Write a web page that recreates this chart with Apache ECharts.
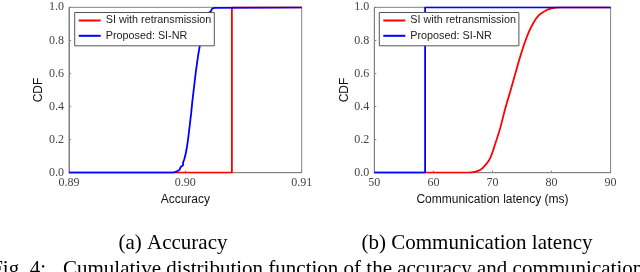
<!DOCTYPE html>
<html>
<head>
<meta charset="utf-8">
<script src="https://cdn.jsdelivr.net/npm/echarts@6/dist/echarts.min.js"></script>
<style>
html,body{margin:0;padding:0;background:#fff;}
#c{width:640px;height:272px;}
</style>
</head>
<body>
<div id="c"></div>
<script>
// ---- Data ----
var seriesNames = ['SI with retransmission', 'Proposed: SI-NR'];

// (a) Accuracy CDF
var accRetransX = [0.89, 0.904, 0.904, 0.91];
var accRetransY = [0, 0, 1, 1];
var accProposedX = [0.89, 0.8989, 0.8990, 0.8991, 0.8992, 0.8993, 0.8994, 0.8995, 0.8996, 0.8997, 0.8998, 0.8999,
  0.9000, 0.9001, 0.9002, 0.9003, 0.9004, 0.9005, 0.9006, 0.9007, 0.9008, 0.9009, 0.9010, 0.9011, 0.9012,
  0.9013, 0.9014, 0.9015, 0.9016, 0.9017, 0.9018, 0.9019, 0.9020, 0.9021, 0.9022, 0.9023, 0.9024, 0.9025, 0.9026, 0.91];
var accProposedY = [0, 0, 0.003, 0.005, 0.008, 0.012, 0.018, 0.025, 0.035, 0.045, 0.06, 0.08,
  0.105, 0.14, 0.185, 0.24, 0.30, 0.36, 0.43, 0.49, 0.55, 0.61, 0.66, 0.71, 0.75,
  0.79, 0.83, 0.86, 0.89, 0.915, 0.935, 0.952, 0.966, 0.977, 0.986, 0.992, 0.996, 0.999, 1.0, 1.0];

// (b) Communication latency CDF (ms)
var latRetransX = [50, 66, 67, 67.9, 68.7, 69.6, 70.4, 71.3, 72.1, 73.0, 73.8, 74.6, 75.4, 76.2, 77.0, 77.8, 78.9, 80.0, 81.4, 90];
var latRetransY = [0, 0, 0.005, 0.016, 0.041, 0.087, 0.167, 0.268, 0.379, 0.49, 0.59, 0.69, 0.78, 0.855, 0.91, 0.95, 0.978, 0.993, 1.0, 1.0];
var latProposedX = [50, 58.6, 58.6, 90];
var latProposedY = [0, 0, 1, 1];

// Axis ticks
var accTicks = {min: 0.89, max: 0.91, interval: 0.01};
var latTicks = {min: 50, max: 90, interval: 10};
var cdfTicks = {min: 0, max: 1, interval: 0.2};

var xTitles = ['Accuracy', 'Communication latency (ms)'];
var yTitle = 'CDF';
var captions = ['(a) Accuracy', '(b) Communication latency'];
var figCaption1 = 'Fig. 4:';
var figCaption2 = 'Cumulative distribution function of the accuracy and communication latency.';

function zip(xs, ys){ var r=[]; for (var i=0;i<xs.length;i++) r.push([xs[i], ys[i]]); return r; }

var RED = '#ff0000', BLUE = '#0000ff';
var FRAME = '#808080';
var serif = '"Liberation Serif", "DejaVu Serif", serif';
var sans = '"Liberation Sans", Arial, sans-serif';

function xAxisCfg(idx, t, dec){
  return {
    type: 'value', gridIndex: idx, min: t.min, max: t.max, interval: t.interval,
    name: xTitles[idx], nameLocation: 'middle', nameGap: 17,
    nameTextStyle: {fontFamily: sans, fontSize: 12, color: '#111'},
    axisLine: {show: true, lineStyle: {color: FRAME, width: 1}},
    axisTick: {show: true, inside: true, length: 2, lineStyle: {color: FRAME}},
    axisLabel: {fontFamily: serif, fontSize: 12, color: '#444', margin: 4,
      formatter: function(v){ return v.toFixed(dec); }},
    splitLine: {show: false}
  };
}
function yAxisCfg(idx){
  return {
    type: 'value', gridIndex: idx, min: cdfTicks.min, max: cdfTicks.max, interval: cdfTicks.interval,
    name: yTitle, nameLocation: 'middle', nameGap: 22, nameRotate: 90,
    nameTextStyle: {fontFamily: sans, fontSize: 12, color: '#111'},
    axisLine: {show: true, lineStyle: {color: FRAME, width: 1}},
    axisTick: {show: true, inside: true, length: 2, lineStyle: {color: FRAME}},
    axisLabel: {fontFamily: serif, fontSize: 12, color: '#444', margin: 5,
      formatter: function(v){ return v.toFixed(1); }},
    splitLine: {show: false}
  };
}
function legendCfg(left){
  return {
    left: left, top: 12.5, orient: 'vertical',
    data: seriesNames,
    icon: 'rect', itemWidth: 22, itemHeight: 2, itemGap: 3.3,
    backgroundColor: '#fff', borderColor: '#555', borderWidth: 1, borderRadius: 0,
    padding: [2, 3, 4, 4],
    textStyle: {fontFamily: sans, fontSize: 10.8, color: '#222', lineHeight: 12},
    selectedMode: false
  };
}
function lineSeries(name, color, xi, data, opts){
  var s = {
    name: name, type: 'line', xAxisIndex: xi, yAxisIndex: xi, data: data,
    symbol: 'none', showSymbol: false, animation: false,
    lineStyle: {color: color, width: 1.8}, itemStyle: {color: color}
  };
  for (var k in (opts||{})) s[k] = opts[k];
  return s;
}

var chart = echarts.init(document.getElementById('c'), null, {renderer: 'canvas'});
chart.setOption({
  animation: false,
  backgroundColor: '#fff',
  grid: [
    {left: 69, top: 7.3, width: 232.7, height: 165.4, show: true, borderColor: FRAME, borderWidth: 1, backgroundColor: 'transparent'},
    {left: 374.3, top: 7.3, width: 236.3, height: 165.4, show: true, borderColor: FRAME, borderWidth: 1, backgroundColor: 'transparent'}
  ],
  xAxis: [xAxisCfg(0, accTicks, 2), xAxisCfg(1, latTicks, 0)],
  yAxis: [yAxisCfg(0), yAxisCfg(1)],
  legend: [legendCfg(74.7), legendCfg(379.3)],
  series: [
    lineSeries(seriesNames[0], RED, 0, zip(accRetransX, accRetransY)),
    lineSeries(seriesNames[1], BLUE, 0, zip(accProposedX, accProposedY), {step: 'end'}),
    lineSeries(seriesNames[0], RED, 1, zip(latRetransX, latRetransY), {smooth: 0.35}),
    lineSeries(seriesNames[1], BLUE, 1, zip(latProposedX, latProposedY))
  ],
  graphic: [
    {type: 'text', x: 173, y: 243, style: {text: captions[0], font: '21px ' + serif, fill: '#000', textAlign: 'center', textVerticalAlign: 'middle'}},
    {type: 'text', x: 477, y: 243, style: {text: captions[1], font: '21px ' + serif, fill: '#000', textAlign: 'center', textVerticalAlign: 'middle'}},
    {type: 'text', x: 46, y: 269, style: {text: figCaption1, font: '21px ' + serif, fill: '#000', textAlign: 'right', textVerticalAlign: 'middle'}},
    {type: 'text', x: 63, y: 269, style: {text: figCaption2, font: '21px ' + serif, fill: '#000', textAlign: 'left', textVerticalAlign: 'middle'}}
  ]
});
</script>
</body>
</html>
